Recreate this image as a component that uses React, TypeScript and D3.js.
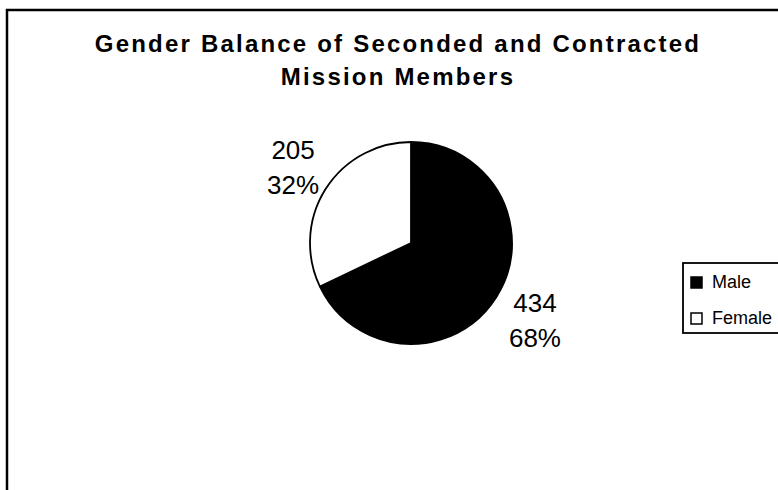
import { useEffect, useRef } from 'react';
import * as d3 from 'd3';

const categories = ['Male', 'Female'];
const counts = [434, 205];
const percentLabels = ['68%', '32%'];
const sliceColors = ['#000000', '#ffffff'];
const titleLines = ['Gender Balance of Seconded and Contracted', 'Mission Members'];

export default function App() {
  const svgRef = useRef<SVGSVGElement>(null);

  useEffect(() => {
    if (!svgRef.current) return;
    const svg = d3.select(svgRef.current);
    svg.selectAll('*').remove();

    const font = '"Liberation Sans", Arial, sans-serif';

    // chart frame (only top and left edges fall inside the picture)
    svg.append('path')
      .attr('d', 'M7,492 L7,10 L780,10')
      .attr('fill', 'none')
      .attr('stroke', '#000')
      .attr('stroke-width', 2.5);

    // title
    svg.append('g')
      .selectAll('text')
      .data(titleLines)
      .enter().append('text')
      .attr('x', 398)
      .attr('y', (_d, i) => 52 + i * 33)
      .attr('text-anchor', 'middle')
      .style('font-family', font)
      .style('font-weight', 'bold')
      .style('font-size', '24px')
      .style('letter-spacing', '2.2px')
      .text(d => d);

    const cx = 411;
    const cy = 243;
    const radius = 101;

    const pie = d3.pie<number>().sort(null).startAngle(0).endAngle(2 * Math.PI);
    const arcs = pie(counts);
    const arc = d3.arc<d3.PieArcDatum<number>>().innerRadius(0).outerRadius(radius);
    const labelArc = d3.arc<d3.PieArcDatum<number>>().innerRadius(143).outerRadius(143);

    const g = svg.append('g').attr('transform', `translate(${cx},${cy})`);

    g.selectAll('path.slice')
      .data(arcs)
      .enter().append('path')
      .attr('class', 'slice')
      .attr('d', arc)
      .attr('fill', (_d, i) => sliceColors[i])
      .attr('stroke', '#000')
      .attr('stroke-width', 1.8)
      .attr('stroke-linejoin', 'round');

    const labels = g.selectAll('g.label')
      .data(arcs)
      .enter().append('g')
      .attr('class', 'label')
      .attr('transform', d => {
        const [x, y] = labelArc.centroid(d);
        return `translate(${x + 3},${y + 1})`;
      });

    labels.append('text')
      .attr('y', -8.5)
      .attr('text-anchor', 'middle')
      .style('font-family', font)
      .style('font-size', '26px')
      .text(d => String(d.data));

    labels.append('text')
      .attr('y', 26.5)
      .attr('text-anchor', 'middle')
      .style('font-family', font)
      .style('font-size', '26px')
      .text((_d, i) => percentLabels[i]);

    // legend
    const legend = svg.append('g').attr('transform', 'translate(683,263)');
    legend.append('rect')
      .attr('width', 130)
      .attr('height', 70)
      .attr('fill', '#fff')
      .attr('stroke', '#000')
      .attr('stroke-width', 1.8);

    const items = legend.selectAll('g.item')
      .data(categories)
      .enter().append('g')
      .attr('class', 'item')
      .attr('transform', (_d, i) => `translate(0,${i * 36})`);

    items.append('rect')
      .attr('x', 8)
      .attr('y', 14)
      .attr('width', 11)
      .attr('height', 11)
      .attr('fill', (_d, i) => sliceColors[i])
      .attr('stroke', '#000')
      .attr('stroke-width', 1.5);

    items.append('text')
      .attr('x', 29)
      .attr('y', 25)
      .style('font-family', font)
      .style('font-size', '18px')
      .text(d => d);
  }, []);

  return (
    <svg
      ref={svgRef}
      width={778}
      height={490}
      style={{ position: 'absolute', left: 0, top: 0, background: '#fff' }}
    ></svg>
  );
}
